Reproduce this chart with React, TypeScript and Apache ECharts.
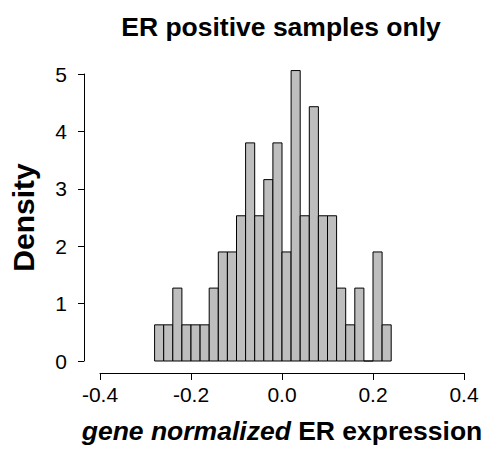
import React, { useEffect, useRef } from "react";
import * as echarts from "echarts";

const breaks = [
  -0.28, -0.26, -0.24, -0.22, -0.2, -0.18, -0.16, -0.14, -0.12, -0.1, -0.08, -0.06, -0.04, -0.02,
  0.0, 0.02, 0.04, 0.06, 0.08, 0.1, 0.12, 0.14, 0.16, 0.18, 0.2, 0.22, 0.24,
];
const densities = [
  0.63, 0.63, 1.27, 0.63, 0.63, 0.63, 1.27, 1.9, 1.9, 2.53, 3.8, 2.53, 3.16, 3.8, 1.9, 5.06, 2.53,
  4.43, 2.53, 2.53, 1.27, 0.63, 1.27, 0, 1.9, 0.63,
];
const xTicks = [-0.4, -0.2, 0.0, 0.2, 0.4];
const yTicks = [0, 1, 2, 3, 4, 5];

const FONT = "'Liberation Sans', Arial, Helvetica, sans-serif";

export default function App() {
  const ref = useRef<HTMLDivElement>(null);
  useEffect(() => {
    if (!ref.current) return;
    const chart = echarts.init(ref.current, null, { renderer: "svg" });
    const data = densities.map((d, i) => [breaks[i], breaks[i + 1], d]);
    chart.setOption({
      animation: false,
      backgroundColor: "#ffffff",
      textStyle: { fontFamily: FONT },
      title: {
        text: "ER positive samples only",
        left: 276,
        textAlign: "center",
        top: 8,
        textStyle: { fontFamily: FONT, fontSize: 26.5, fontWeight: "bold", color: "#000" },
      },
      grid: { left: 98, right: 22, top: 74, bottom: 86 },
      xAxis: {
        type: "value",
        min: xTicks[0],
        max: xTicks[xTicks.length - 1],
        interval: 0.2,
        offset: 12,
        axisLine: { show: true, onZero: false, lineStyle: { color: "#000", width: 1 } },
        axisTick: { show: true, length: 7, lineStyle: { color: "#000" } },
        splitLine: { show: false },
        axisLabel: {
          fontFamily: FONT,
          fontSize: 21,
          color: "#000",
          margin: 11,
          formatter: (v: number) => v.toFixed(1),
        },
        name: "{i|gene normalized} {b|ER expression}",
        nameLocation: "middle",
        nameGap: 44,
        nameTextStyle: {
          fontSize: 26.5,
          fontWeight: "bold",
          rich: {
            i: { fontFamily: FONT, fontSize: 26.5, fontWeight: "bold", fontStyle: "italic", color: "#000" },
            b: { fontFamily: FONT, fontSize: 26.5, fontWeight: "bold", color: "#000" },
          },
        },
      },
      yAxis: {
        type: "value",
        min: yTicks[0],
        max: yTicks[yTicks.length - 1],
        interval: 1,
        offset: 16,
        axisLine: { show: true, onZero: false, lineStyle: { color: "#000", width: 1 } },
        axisTick: { show: true, length: 6, lineStyle: { color: "#000" } },
        splitLine: { show: false },
        axisLabel: { fontFamily: FONT, fontSize: 21, color: "#000", margin: 17 },
        name: "Density",
        nameLocation: "middle",
        nameGap: 46,
        nameTextStyle: { fontFamily: FONT, fontSize: 30, fontWeight: "bold", color: "#000" },
      },
      series: [
        {
          type: "custom",
          clip: false,
          data,
          renderItem: (params: any, api: any) => {
            const x0 = api.value(0);
            const x1 = api.value(1);
            const d = api.value(2);
            const p0 = api.coord([x0, 0]);
            const p1 = api.coord([x1, d]);
            return {
              type: "rect",
              shape: { x: p0[0], y: p1[1], width: p1[0] - p0[0], height: p0[1] - p1[1] },
              style: { fill: "#bebebe", stroke: "#000", lineWidth: 1 },
            };
          },
        },
      ],
    });
    return () => chart.dispose();
  }, []);
  return (
    <div
      ref={ref}
      style={{ position: "fixed", left: 0, top: 0, width: 486, height: 449, background: "#fff" }}
    />
  );
}
